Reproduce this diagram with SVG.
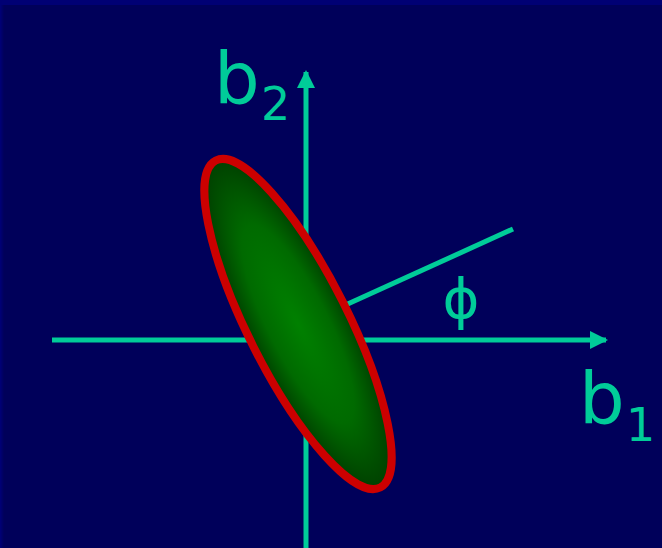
<svg xmlns="http://www.w3.org/2000/svg" width="662" height="548" viewBox="0 0 662 548">
  <style>
    .axis { stroke: #00cc99; stroke-width: 5; fill: none; }
    .lbl { fill: #00cc99; font-family: "DejaVu Sans", "Liberation Sans", sans-serif; }
  </style>
  <defs>
    <radialGradient id="g" cx="0.5" cy="0.5" r="0.5">
      <stop offset="0" stop-color="#008000"/>
      <stop offset="0.6" stop-color="#006a00"/>
      <stop offset="1" stop-color="#004000"/>
    </radialGradient>
    <marker id="ah" viewBox="0 0 18 18" refX="16" refY="9" markerWidth="18" markerHeight="18" markerUnits="userSpaceOnUse" orient="auto">
      <path d="M0,0 L18,9 L0,18 Z" fill="#00cc99"/>
    </marker>
    <linearGradient id="lb" x1="0" y1="0" x2="1" y2="0">
      <stop offset="0" stop-color="#000078"/>
      <stop offset="1" stop-color="#00005a"/>
    </linearGradient>
  </defs>
  <rect x="0" y="0" width="662" height="548" fill="#00005a"/>
  <rect x="0" y="0" width="4" height="548" fill="url(#lb)"/>
  <rect x="0" y="0" width="662" height="5" fill="#000074"/>

  <g id="connectors">
    <line id="axis-b1" class="axis" x1="52" y1="340" x2="606" y2="340" marker-end="url(#ah)"/>
    <line id="axis-b2" class="axis" x1="306" y1="548" x2="306" y2="72" marker-end="url(#ah)"/>
    <line id="phi-line" class="axis" x1="297" y1="327" x2="513" y2="229"/>
  </g>

  <g id="ellipse">
    <ellipse cx="0" cy="0" rx="183" ry="50" transform="translate(298,324) rotate(63.3)" fill="url(#g)" stroke="#cc0000" stroke-width="8"/>
  </g>

  <g id="label-b2">
    <text class="lbl" x="214" y="103" font-size="72">b</text>
    <text class="lbl" x="261" y="120" font-size="46">2</text>
  </g>
  <g id="label-b1">
    <text class="lbl" x="579" y="423" font-size="72">b</text>
    <text class="lbl" x="626" y="441" font-size="46">1</text>
  </g>
  <g id="label-phi">
    <text class="lbl" x="461" y="318" font-size="56" text-anchor="middle">ϕ</text>
  </g>
</svg>
